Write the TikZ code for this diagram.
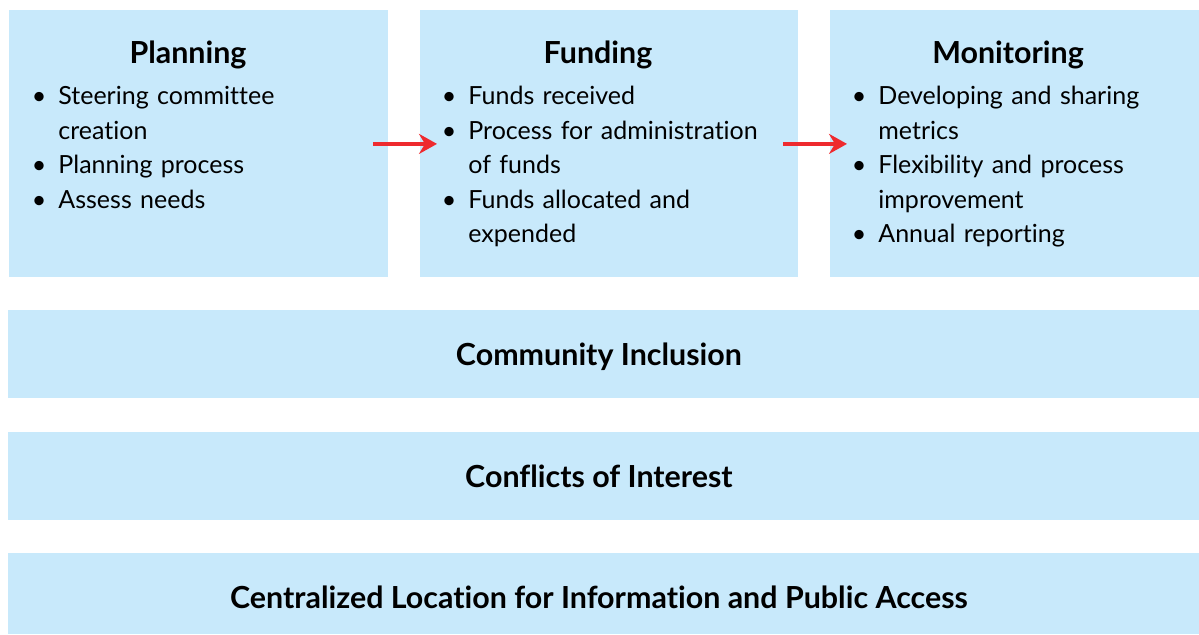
\documentclass[tikz,border=0pt]{standalone}
\usepackage{fontspec}
\setmainfont{Lato}[Ligatures=NoCommon]
\usepackage{enumitem}
\usetikzlibrary{arrows.meta}

\definecolor{panel}{HTML}{C8E9FB}
\definecolor{flowred}{HTML}{EE2A2E}

\setlist[itemize]{label=\textbullet,leftmargin=10pt,labelsep=6pt,itemsep=0pt,parsep=0pt,topsep=0pt,partopsep=0pt}

\begin{document}
\begin{tikzpicture}[
    x=0.5pt,
    y=-0.5pt,
    >=Stealth,
    caja/.style={fill=panel,draw=none,inner sep=0pt,anchor=north west},
    titulo/.style={font=\fontsize{15.2}{18}\selectfont\bfseries},
    lista/.style={anchor=north west,inner sep=0pt,text width=175pt,align=left,
        font=\fontsize{12.5}{17.25}\selectfont},
    banda/.style={font=\fontsize{15.2}{18}\selectfont\bfseries,xshift=-2.5pt},
    flujo/.style={flowred,line width=2pt,-{Stealth[length=9pt,width=10pt,inset=3pt]}}
]
    \useasboundingbox (0,0) rectangle (1199,634);

    % Tres etapas arriba
    \node[caja,minimum width=189.5pt,minimum height=133.5pt] (plan) at (9,10) {};
    \node[caja,minimum width=189pt,minimum height=133.5pt] (fund) at (420,10) {};
    \node[caja,minimum width=184.5pt,minimum height=133.5pt] (moni) at (830,10) {};

    \node[titulo] (tplan) at (188,55) {Planning};
    \node[titulo] (tfund) at (598,55) {Funding};
    \node[titulo] (tmoni) at (1008,55) {Monitoring};

    \node[lista] (lplan) at (38,70) {%
        \begin{itemize}
            \item Steering committee\newline creation
            \item Planning process
            \item Assess needs
        \end{itemize}};
    \node[lista] (lfund) at (448,70) {%
        \begin{itemize}
            \item Funds received
            \item Process for administration\newline of funds
            \item Funds allocated and\newline expended
        \end{itemize}};
    \node[lista] (lmoni) at (858,70) {%
        \begin{itemize}
            \item Developing and sharing\newline metrics
            \item Flexibility and process\newline improvement
            \item Annual reporting
        \end{itemize}};

    % Flechas entre etapas
    \draw[flujo] ([xshift=-8pt]plan.east) -- ([xshift=8.5pt]fund.west);
    \draw[flujo] ([xshift=-8pt]fund.east) -- ([xshift=8.5pt]moni.west);

    % Bandas transversales
    \node[caja,minimum width=595.5pt,minimum height=44pt] (incl) at (8,310) {};
    \node[caja,minimum width=595.5pt,minimum height=44pt] (conf) at (8,432) {};
    \node[caja,minimum width=595.5pt,minimum height=40.5pt] (cent) at (8,553) {};

    \node[banda,yshift=-1pt] at (incl.center) {Community Inclusion};
    \node[banda] at (conf.center) {Conflicts of Interest};
    \node[banda,yshift=-1.5pt] at (cent.center) {Centralized Location for Information and Public Access};
\end{tikzpicture}
\end{document}
